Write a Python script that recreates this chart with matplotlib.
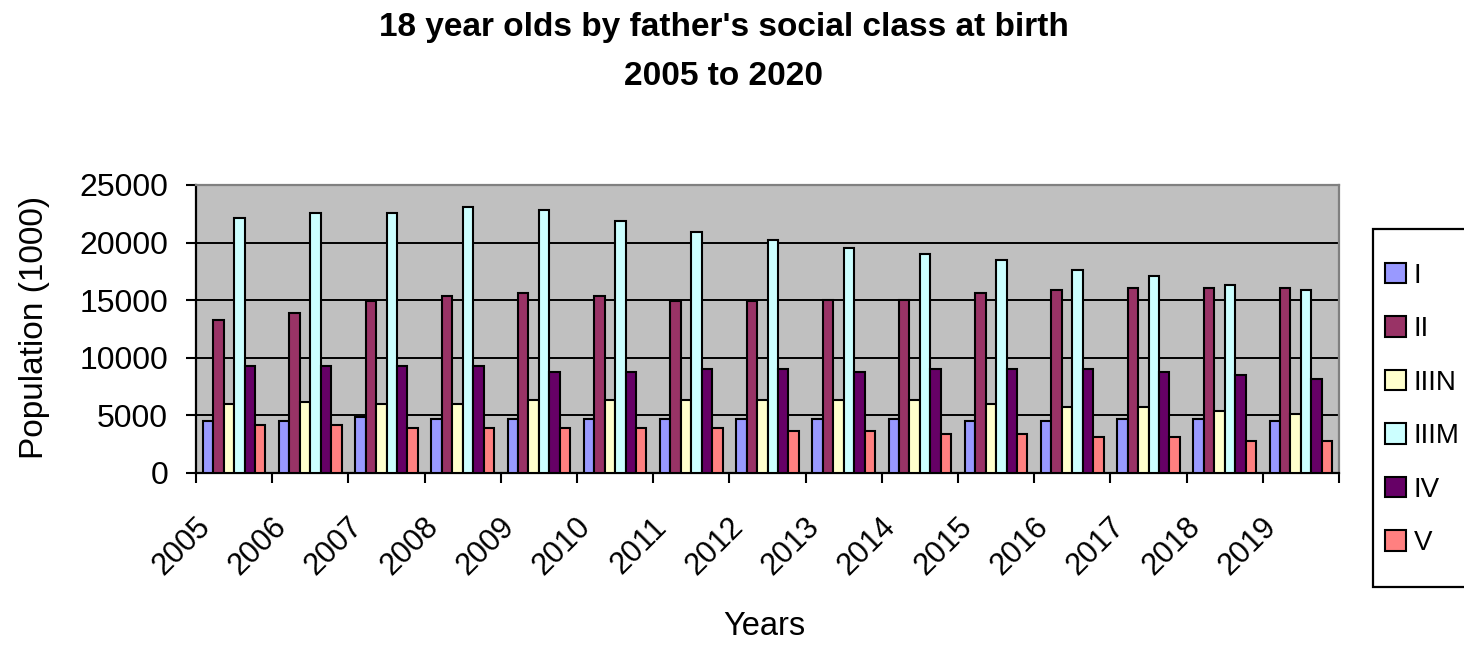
import numpy as np
import matplotlib
matplotlib.use("Agg")
import matplotlib.pyplot as plt
from matplotlib.patches import Rectangle
from matplotlib.transforms import ScaledTranslation

# Data: 18 year olds (thousands) by father's social class at birth
years = ["2005", "2006", "2007", "2008", "2009", "2010", "2011", "2012",
         "2013", "2014", "2015", "2016", "2017", "2018", "2019"]
classes = ["I", "II", "IIIN", "IIIM", "IV", "V"]

class_I = [4500, 4500, 4850, 4650, 4650, 4650, 4650, 4650, 4650, 4650, 4500, 4500, 4650, 4650, 4500]
class_II = [13250, 13900, 14950, 15350, 15650, 15350, 14950, 14950, 15050, 15050, 15600, 15850, 16100, 16100, 16100]
class_IIIN = [5950, 6200, 5950, 5950, 6300, 6300, 6300, 6300, 6300, 6300, 5950, 5700, 5700, 5350, 5100]
class_IIIM = [22150, 22550, 22550, 23100, 22800, 21900, 20900, 20250, 19500, 19000, 18450, 17650, 17100, 16350, 15850]
class_IV = [9250, 9250, 9250, 9250, 8750, 8750, 9000, 9000, 8750, 9000, 9000, 9000, 8750, 8500, 8200]
class_V = [4200, 4200, 3900, 3900, 3900, 3900, 3900, 3650, 3650, 3350, 3350, 3100, 3100, 2800, 2800]

series = [class_I, class_II, class_IIIN, class_IIIM, class_IV, class_V]
colors = ["#9999FF", "#993366", "#FFFFCC", "#CCFFFF", "#660066", "#FF8080"]

plt.rcParams["font.family"] = ["Liberation Sans", "DejaVu Sans"]

W, H = 1464, 645
fig = plt.figure(figsize=(W / 100, H / 100), dpi=100)
fig.patch.set_facecolor("white")

ax_left, ax_right, ax_top, ax_bot = 196, 1339, 185, 473
ax = fig.add_axes([ax_left / W, 1 - ax_bot / H,
                   (ax_right - ax_left) / W, (ax_bot - ax_top) / H])
ax.set_facecolor("#C0C0C0")

n = len(years)
x = np.arange(n)
bar_w = 0.137
offsets = (np.arange(len(series)) - (len(series) - 1) / 2) * bar_w
for vals, col, lab, off in zip(series, colors, classes, offsets):
    ax.bar(x + off, vals, width=bar_w, color=col, edgecolor="black",
           linewidth=1.5, label=lab, zorder=3)

ax.set_xlim(-0.5, n - 0.5)
ax.set_ylim(0, 25000)

# gridlines
ax.set_yticks(np.arange(0, 25001, 5000))
ax.yaxis.grid(True, color="black", linewidth=1.4, zorder=1)
ax.set_axisbelow(True)

# category boundaries as major ticks, year labels at category centres
ax.set_xticks(np.arange(-0.5, n, 1.0))
ax.set_xticklabels([])
ax.set_xticks(x, minor=True)
ax.set_xticklabels(years, minor=True, rotation=45, ha="right",
                   fontsize=22)
ax.tick_params(axis="x", which="minor", length=0, pad=28)
ax.tick_params(axis="x", which="major", direction="out", length=7,
               width=1.5, color="black")
ax.tick_params(axis="y", direction="out", length=7, width=1.5,
               labelsize=23, pad=13)
shift = ScaledTranslation(-18 / 100, 0, fig.dpi_scale_trans)
for lbl in ax.get_xticklabels(minor=True):
    lbl.set_transform(lbl.get_transform() + shift)

for side in ("left", "bottom"):
    ax.spines[side].set_color("black")
    ax.spines[side].set_linewidth(1.6)
for side in ("top", "right"):
    ax.spines[side].set_color("#808080")
    ax.spines[side].set_linewidth(1.6)

# titles and axis labels
fig.text(724 / W, 1 - 36 / H, "18 year olds by father's social class at birth",
         ha="center", va="baseline", fontsize=24, fontweight="bold")
fig.text(724 / W, 1 - 85 / H, "2005 to 2020",
         ha="center", va="baseline", fontsize=24, fontweight="bold")
fig.text(764 / W, 1 - 635 / H, "Years", ha="center", va="baseline",
         fontsize=23.5)
fig.text(35 / W, 1 - 327 / H, "Population (1000)", rotation=90,
         ha="center", va="center", fontsize=24)

# legend box running off the right edge
fig.patches.append(Rectangle((1373 / W, 1 - 587 / H), (W + 20 - 1373) / W,
                             (587 - 229) / H, transform=fig.transFigure,
                             facecolor="white", edgecolor="black",
                             linewidth=1.6, clip_on=False))
handles, labels = ax.get_legend_handles_labels()
fig.legend(handles, labels, loc="center left",
           bbox_to_anchor=(1385 / W, 1 - 409.5 / H), frameon=False,
           fontsize=20, handlelength=0.755, handleheight=0.755,
           handletextpad=0.28, labelspacing=0.99, borderpad=0,
           borderaxespad=0)

fig.savefig("out.png", dpi=100)
